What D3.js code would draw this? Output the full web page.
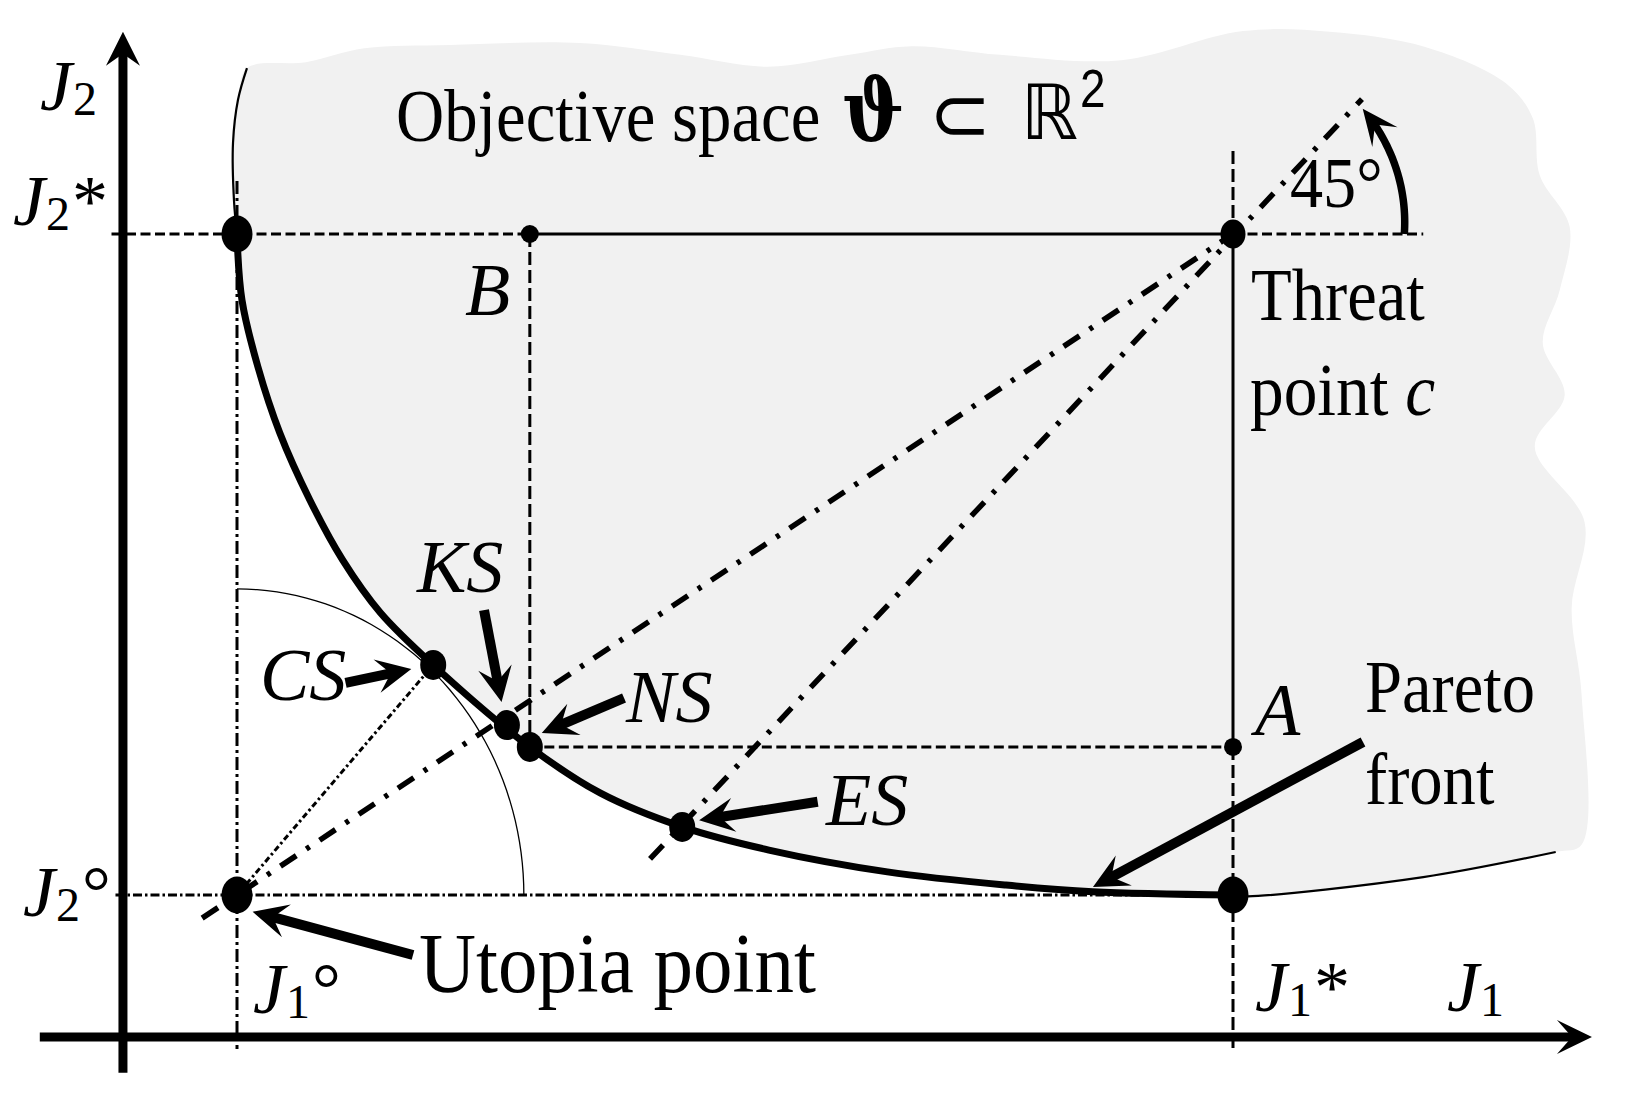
<!DOCTYPE html>
<html><head><meta charset="utf-8">
<script src="https://cdn.jsdelivr.net/npm/d3@7"></script>
<style>html,body{margin:0;padding:0;background:#fff;} svg{display:block}</style>
</head><body>
<svg id="chart" width="1635" height="1097"></svg>
<script>
// ---------- data (normalised objective values: utopia = 0, J* = 1) ----------
const paretoJ1 = [0, 0.005, 0.021, 0.043, 0.073, 0.106, 0.144, 0.197, 0.294, 0.365, 0.447, 0.534, 0.653, 0.772, 0.859, 1];
const paretoJ2 = [1, 0.900, 0.799, 0.699, 0.598, 0.507, 0.427, 0.348, 0.224, 0.154, 0.103, 0.068, 0.035, 0.015, 0.005, 0];
const upperJ1 = [0, -0.003, -0.004, 0.001, 0.010];
const upperJ2 = [1, 1.05, 1.138, 1.203, 1.251];
const rightJ1 = [1, 1.015, 1.191, 1.324];
const rightJ2 = [0, -0.002, 0.027, 0.065];
const edgeJ1 = [0.010,0.069,0.128,0.214,0.344,0.445,0.533,0.615,0.677,0.766,0.888,1.010,1.097,1.193,1.274,1.301,1.308,1.338,1.328,1.311,1.333,1.303,1.353,1.340,1.350,1.350,1.324];
const edgeJ2 = [1.251,1.260,1.281,1.286,1.289,1.271,1.253,1.271,1.284,1.271,1.263,1.307,1.306,1.283,1.228,1.175,1.089,1.011,0.915,0.835,0.756,0.678,0.564,0.434,0.303,0.076,0.065];
const solutionNames = ["CS", "KS", "NS", "ES"];
const solutionJ1 = [0.197, 0.271, 0.294, 0.447];
const solutionJ2 = [0.348, 0.257, 0.224, 0.103];
const threat = [1, 1];
const utopia = [0, 0];
const anchorJ1 = [0, 1];   // J2* end, J1* end of front
const anchorJ2 = [1, 0];
const esLineJ1 = [0.4147, 1.1295];
const esLineJ2 = [0.0545, 1.2042];
const ksLineJ1 = [-0.035, 1];
const ksLineJ2 = [-0.035, 1];
const arrowNames = ["CS", "KS", "NS", "ES", "Pareto", "Utopia"];
const arrowFromJ1 = [0.109, 0.248, 0.3886, 0.583, 1.1305, 0.1767];
const arrowFromJ2 = [0.321, 0.431, 0.298, 0.141, 0.2315, -0.0908];
const arrowToJ1 = [0.175, 0.2656, 0.306, 0.464, 0.8594, 0.0157];
const arrowToJ2 = [0.342, 0.292, 0.245, 0.113, 0.0121, -0.0253];
const circleRJ1 = 0.288, circleRJ2 = 0.463;
const angleDeg = 45, angleArcR = 0.172;
const axisJ1Pos = -0.2148, axisJ2Pos = -0.1145;
const axisJ1Range = [-0.198, 1.3604], axisJ2Range = [-0.269, 1.306];

// ---------- scales ----------
const x = d3.scaleLinear().domain([0, 1]).range([237, 1233]);
const y = d3.scaleLinear().domain([0, 1]).range([895, 234]);
const svg = d3.select('#chart');
const zip = (a, b) => a.map((v, i) => [v, b[i]]);
const line = d3.line().x(d => x(d[0])).y(d => y(d[1]));
const curve = d3.line().x(d => x(d[0])).y(d => y(d[1])).curve(d3.curveCatmullRom.alpha(0.5));

const front = zip(paretoJ1, paretoJ2);
const upper = zip(upperJ1, upperJ2);
const right = zip(rightJ1, rightJ2);
const edge = zip(edgeJ1, edgeJ2);

// ---------- shaded objective space ----------
const region = [...edge, ...right.slice().reverse().slice(1), ...front.slice().reverse().slice(1), ...upper.slice(1, -1)];
svg.append('path').attr('d', d3.line().x(d => x(d[0])).y(d => y(d[1])).curve(d3.curveCatmullRomClosed.alpha(0.5))(region))
  .attr('fill', '#f1f1f1');

// ---------- thin compromise circle ----------
const arcPts = d3.range(0, 91, 2).map(a => [circleRJ1 * Math.sin(a * Math.PI / 180), circleRJ2 * Math.cos(a * Math.PI / 180)]);
svg.append('path').attr('d', line(arcPts)).attr('fill', 'none').attr('stroke', '#000').attr('stroke-width', 1.3);

function seg(p, q, sw, dash) {
  const l = svg.append('line').attr('x1', x(p[0])).attr('y1', y(p[1])).attr('x2', x(q[0])).attr('y2', y(q[1]))
    .attr('stroke', '#000').attr('stroke-width', sw);
  if (dash) l.attr('stroke-dasharray', dash);
  return l;
}
const NS = [solutionJ1[2], solutionJ2[2]];
// J2* line
seg([-0.126, 1], [NS[0], 1], 3, '10,4.5');
seg([NS[0], 1], [1, 1], 3);
seg([1, 1], [1.191, 1], 3, '10,4.5');
// J1* line
seg([1, 1.1256], [1, 1], 3, '13,5');
seg([1, 1], [1, NS[1]], 3);
seg([1, NS[1]], [1, -0.234], 3, '13,5');
// B and A guides
seg([NS[0], 1], NS, 3, '13,5');
seg(NS, [1, NS[1]], 3, '10,4.5');
// utopia guides
seg([0, 1.08], [0, -0.233], 3, '13,4,3,4');
seg([-0.122, 0], [1, 0], 3, '9,3,2.5,3');
// rays
seg([ksLineJ1[0], ksLineJ2[0]], [ksLineJ1[1], ksLineJ2[1]], 5.5, '19,12,4,12');
seg([esLineJ1[0], esLineJ2[0]], [esLineJ1[1], esLineJ2[1]], 5.5, '19,12,4,12');
seg(utopia, [solutionJ1[0], solutionJ2[0]], 3, '6,3,2.5,3');

// ---------- Pareto front ----------
svg.append('path').attr('d', curve(upper)).attr('fill', 'none').attr('stroke', '#000').attr('stroke-width', 2.2);
svg.append('path').attr('d', curve(right)).attr('fill', 'none').attr('stroke', '#000').attr('stroke-width', 2.2);
svg.append('path').attr('d', curve(front)).attr('fill', 'none').attr('stroke', '#000').attr('stroke-width', 7);

// ---------- markers ----------
function dot(p, rx, ry) {
  svg.append('ellipse').attr('cx', x(p[0])).attr('cy', y(p[1])).attr('rx', rx).attr('ry', ry).attr('fill', '#000');
}
zip(anchorJ1, anchorJ2).forEach(p => dot(p, 15.5, 18.5));
dot(utopia, 15.5, 18.5);
zip(solutionJ1, solutionJ2).forEach(p => dot(p, 13, 15));
dot(threat, 12.5, 14.5);
dot([NS[0], 1], 9, 9);
dot([1, NS[1]], 9, 9);

// ---------- arrows ----------
function arrowPx(p0, p1, o = {}) {
  const L = o.L || 35, Wd = o.W || 17, N = o.N || 21, sw = o.sw || 10;
  const dx = p1[0] - p0[0], dy = p1[1] - p0[1], len = Math.hypot(dx, dy);
  const ux = dx / len, uy = dy / len, nx = -uy, ny = ux;
  svg.append('line').attr('x1', p0[0]).attr('y1', p0[1])
    .attr('x2', p1[0] - ux * (N - 1)).attr('y2', p1[1] - uy * (N - 1))
    .attr('stroke', '#000').attr('stroke-width', sw);
  svg.append('path').attr('d',
    `M${p1[0]},${p1[1]}L${p1[0] - ux * L + nx * Wd},${p1[1] - uy * L + ny * Wd}` +
    `L${p1[0] - ux * N},${p1[1] - uy * N}L${p1[0] - ux * L - nx * Wd},${p1[1] - uy * L - ny * Wd}Z`)
    .attr('fill', '#000');
}
arrowNames.forEach((n, i) => arrowPx([x(arrowFromJ1[i]), y(arrowFromJ2[i])], [x(arrowToJ1[i]), y(arrowToJ2[i])]));

// 45 degree arc arrow around the threat point
{
  const cx = x(threat[0]), cy = y(threat[1]);
  const r0 = x(threat[0] + angleArcR) - cx;
  const endA = (angleDeg - 1) * Math.PI / 180;
  const pts = d3.range(0, 1.0001, 0.02).map(t => {
    const a = t * endA, r = r0 + t * 9;
    return [cx + r * Math.cos(a), cy - r * Math.sin(a)];
  });
  const tip = pts[pts.length - 1];
  const back = pts[pts.length - 6];
  const shaft = pts.slice(0, pts.length - 5);
  svg.append('path').attr('d', d3.line()(shaft)).attr('fill', 'none').attr('stroke', '#000').attr('stroke-width', 7.5);
  arrowPx(back, tip, { sw: 0.1, L: 36, W: 16, N: 20 });
}

// ---------- axes ----------
arrowPx([x(axisJ1Range[0]), y(axisJ1Pos)], [x(axisJ1Range[1]), y(axisJ1Pos)], { sw: 9, L: 35, W: 17, N: 20 });
arrowPx([x(axisJ2Pos), y(axisJ2Range[0])], [x(axisJ2Pos), y(axisJ2Range[1])], { sw: 9, L: 34, W: 17, N: 22 });

// ---------- labels ----------
const SERIF = '"Liberation Serif", "Times New Roman", serif';
function label(xn, yn, parts, sx = 1) {
  const t = svg.append('text').attr('transform', `translate(${x(xn)},${y(yn)}) scale(${sx},1)`)
    .attr('font-family', SERIF).attr('fill', '#000');
  parts.forEach(p => {
    const s = t.append('tspan').text(p.t).attr('font-size', p.size || 74);
    if (p.it) s.attr('font-style', 'italic');
    if (p.dy) s.attr('dy', p.dy);
    if (p.dx) s.attr('dx', p.dx);
    if (p.fam) s.attr('font-family', p.fam);
    if (p.bold) s.attr('font-weight', 'bold');
  });
}
const J = (sub, sup) => {
  const a = [{ t: 'J', it: 1, size: 72 }, { t: sub, size: 48, dy: 5, dx: 1 }];
  if (sup) a.push({ t: sup, size: 72, dy: -5, dx: 2 });
  return a;
};
label(-0.1978, 1.1876, J('2'));
label(-0.2249, 1.0136, J('2', '*'));
label(-0.2149, -0.0318, J('2', '°'));
label(0.0161, -0.1785, J('1', '°'));
label(1.0221, -0.1755, J('1', '*'));
label(1.2149, -0.1755, J('1'));

label(0.2289, 0.8775, [{ t: 'B', it: 1 }]);
label(1.0221, 0.2421, [{ t: 'A', it: 1 }]);
label(0.0231, 0.2950, [{ t: 'CS', it: 1 }]);
label(0.1807, 0.4584, [{ t: 'KS', it: 1 }]);
label(0.3906, 0.2617, [{ t: 'NS', it: 1 }]);
label(0.5914, 0.1059, [{ t: 'ES', it: 1 }]);
label(1.0181, 0.8699, [{ t: 'Threat' }], 0.9);
label(1.0171, 0.7262, [{ t: 'point ' }, { t: 'c', it: 1 }], 0.91);
label(1.0572, 1.0408, [{ t: '45°', size: 72 }], 0.92);
label(1.1325, 0.2769, [{ t: 'Pareto' }], 0.9);
label(1.1325, 0.1377, [{ t: 'front' }], 0.9);
label(0.1827, -0.1467, [{ t: 'Utopia point', size: 84 }], 0.94);
label(0.1596, 1.1407, [{ t: 'Objective space', size: 75 }], 0.89);
label(0.6074, 1.1407, [{ t: 'ϑ', size: 86, bold: 1, fam: '"DejaVu Serif", serif' }], 0.85);
label(0.6948, 1.1407, [{ t: '⊂', size: 78, fam: '"DejaVu Sans", sans-serif' }], 0.95);
label(0.7871, 1.1437, [{ t: 'ℝ', size: 76, fam: '"DejaVu Sans", sans-serif' }], 0.95);
label(0.8464, 1.1921, [{ t: '2', size: 54, fam: '"Liberation Sans", Arial, sans-serif' }], 0.85);
</script>
</body></html>
